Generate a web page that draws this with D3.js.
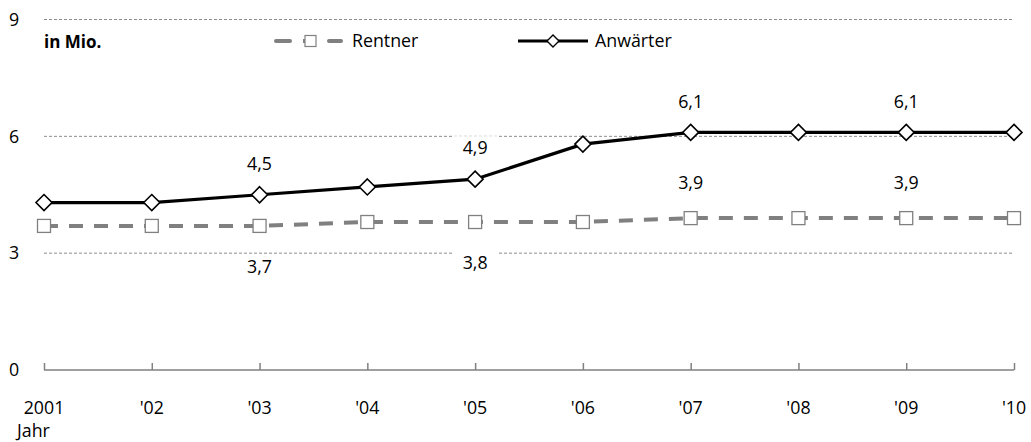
<!DOCTYPE html>
<html>
<head>
<meta charset="utf-8">
<script src="https://cdn.jsdelivr.net/npm/d3@7"></script>
<style>
  html, body { margin: 0; padding: 0; background: #fff; }
  svg { display: block; font-family: "Open Sans", "Noto Sans", sans-serif; }
</style>
</head>
<body>
<svg id="chart" width="1031" height="442"></svg>
<script>
// Pensions data, in millions
const years = [2001, 2002, 2003, 2004, 2005, 2006, 2007, 2008, 2009, 2010];
const yearLabels = ["2001", "'02", "'03", "'04", "'05", "'06", "'07", "'08", "'09", "'10"];
const rentner = [3.7, 3.7, 3.7, 3.8, 3.8, 3.8, 3.9, 3.9, 3.9, 3.9];
const anwaerter = [4.3, 4.3, 4.5, 4.7, 4.9, 5.8, 6.1, 6.1, 6.1, 6.1];
const yTicks = [0, 3, 6, 9];
// Years whose values are printed, and where
const anwaerterLabelled = [2003, 2005, 2007, 2009];
const rentnerBelow = [2003, 2005];
const rentnerAbove = [2007, 2009];

const svg = d3.select("#chart");
const x = d3.scalePoint().domain(years).range([44, 1014]);
const y = d3.scaleLinear().domain([0, 9]).range([370, 19.5]);
const fmt = v => d3.format(".1f")(v).replace(".", ",");
const FS = 17.8;

// Horizontal grid lines
svg.append("g").selectAll("line").data(yTicks.filter(d => d > 0)).join("line")
  .attr("x1", 44).attr("x2", 1014)
  .attr("y1", d => y(d)).attr("y2", d => y(d))
  .attr("stroke", "#8c8c8c").attr("stroke-width", 1)
  .attr("stroke-dasharray", "3,2");

// Y tick labels
svg.append("g").selectAll("text").data(yTicks).join("text")
  .attr("x", 14).attr("y", d => y(d)).attr("dy", "0.35em")
  .attr("text-anchor", "middle").attr("font-size", FS).attr("fill", "#000")
  .text(d => d);

// X axis with upward ticks
const xAxis = d3.axisBottom(x).tickSize(-7).tickFormat(() => "");
const ax = svg.append("g").attr("transform", "translate(0,370)").call(xAxis);
ax.select(".domain").attr("d", "M44,0H1014").attr("stroke", "#808080").attr("stroke-width", 1.5);
ax.selectAll(".tick line").attr("stroke", "#808080").attr("stroke-width", 1.5);

svg.append("g").selectAll("text").data(years).join("text")
  .attr("x", d => x(d)).attr("y", 414)
  .attr("text-anchor", "middle").attr("font-size", FS)
  .text((d, i) => yearLabels[i]);
svg.append("text").attr("x", 17).attr("y", 437).attr("font-size", FS).text("Jahr");

// Value labels with white backing that interrupts grid lines
function valueLabel(xv, yv, value) {
  const g = svg.append("g");
  g.append("rect").attr("x", xv - 23).attr("y", yv - 12).attr("width", 46).attr("height", 24).attr("fill", "#fff");
  g.append("text").attr("x", xv).attr("y", yv).attr("dy", "0.35em")
    .attr("text-anchor", "middle").attr("font-size", FS).text(fmt(value));
}

// Rentner line
const line = d3.line().x((d, i) => x(years[i])).y(d => y(d));
svg.append("path").datum(rentner).attr("d", line)
  .attr("fill", "none").attr("stroke", "#808080").attr("stroke-width", 4)
  .attr("stroke-dasharray", "14,11");
// Anwärter line
svg.append("path").datum(anwaerter).attr("d", line)
  .attr("fill", "none").attr("stroke", "#000").attr("stroke-width", 3.2);

// Markers
svg.append("g").selectAll("rect").data(rentner).join("rect")
  .attr("x", (d, i) => x(years[i]) - 6.5).attr("y", d => y(d) - 6.5)
  .attr("width", 13).attr("height", 13)
  .attr("fill", "#fff").attr("stroke", "#808080").attr("stroke-width", 1.3);
svg.append("g").selectAll("path").data(anwaerter).join("path")
  .attr("transform", (d, i) => `translate(${x(years[i])},${y(d)})`)
  .attr("d", "M0,-8L8,0L0,8L-8,0Z")
  .attr("fill", "#fff").attr("stroke", "#000").attr("stroke-width", 1.6);

// Value labels
years.forEach((yr, i) => {
  if (anwaerterLabelled.includes(yr)) valueLabel(x(yr), y(anwaerter[i]) - 31, anwaerter[i]);
  if (rentnerBelow.includes(yr)) valueLabel(x(yr), y(rentner[i]) + 41, rentner[i]);
  if (rentnerAbove.includes(yr)) valueLabel(x(yr), y(rentner[i]) - 35, rentner[i]);
});

// Unit and legend
svg.append("text").attr("x", 44).attr("y", 42).attr("dy", "0.35em")
  .attr("font-size", FS - 0.8).attr("font-weight", "bold").text("in Mio.");

const lg = svg.append("g");
lg.append("line").attr("x1", 276).attr("x2", 290).attr("y1", 41).attr("y2", 41)
  .attr("stroke", "#808080").attr("stroke-width", 4).attr("stroke-linecap", "round");
lg.append("line").attr("x1", 303).attr("x2", 310).attr("y1", 41).attr("y2", 41)
  .attr("stroke", "#808080").attr("stroke-width", 4);
lg.append("rect").attr("x", 305).attr("y", 35.5).attr("width", 11).attr("height", 11)
  .attr("fill", "#fff").attr("stroke", "#808080").attr("stroke-width", 1.2);
lg.append("line").attr("x1", 329).attr("x2", 341).attr("y1", 41).attr("y2", 41)
  .attr("stroke", "#808080").attr("stroke-width", 4).attr("stroke-linecap", "round");
lg.append("text").attr("x", 352).attr("y", 41).attr("dy", "0.35em").attr("font-size", FS).text("Rentner");

lg.append("line").attr("x1", 518).attr("x2", 588).attr("y1", 41).attr("y2", 41)
  .attr("stroke", "#000").attr("stroke-width", 3);
lg.append("path").attr("transform", "translate(553,41)").attr("d", "M0,-6L6,0L0,6L-6,0Z")
  .attr("fill", "#fff").attr("stroke", "#000").attr("stroke-width", 1.4);
lg.append("text").attr("x", 595).attr("y", 41).attr("dy", "0.35em").attr("font-size", FS).text("Anwärter");
</script>
</body>
</html>
